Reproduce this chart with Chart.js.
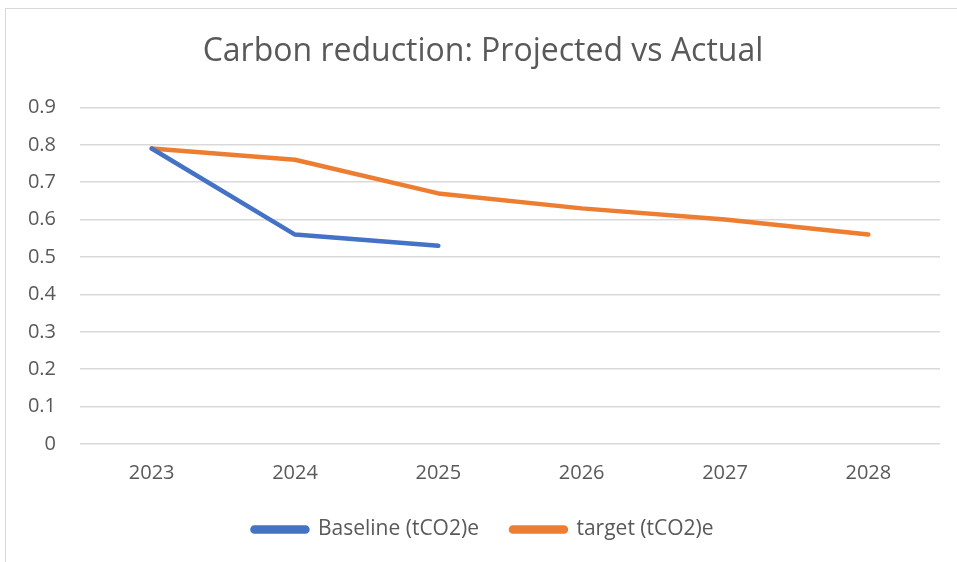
<!DOCTYPE html>
<html>
<head>
<meta charset="utf-8">
<script src="https://cdn.jsdelivr.net/npm/chart.js@4"></script>
<style>
  html, body { margin: 0; padding: 0; background: #fff; overflow: hidden; }
  #frame {
    position: absolute; left: 5px; top: 8px;
    width: 970px; height: 570px;
    border: 1px solid #d9d9d9;
  }
  #wrap { position: absolute; left: 0; top: 0; width: 951px; height: 553px; }
</style>
</head>
<body>
<div id="frame">
  <div id="wrap"><canvas id="chart"></canvas></div>
</div>
<script>
  const years = ['2023', '2024', '2025', '2026', '2027', '2028'];
  const baseline = [0.79, 0.56, 0.53, null, null, null];
  const target = [0.79, 0.76, 0.67, 0.63, 0.60, 0.56];
  const yTicks = [0, 0.1, 0.2, 0.3, 0.4, 0.5, 0.6, 0.7, 0.8, 0.9];

  const textColor = '#595959';
  const gridColor = '#d9d9d9';
  const font = "'Open Sans', 'Liberation Sans', sans-serif";

  new Chart(document.getElementById('chart'), {
    type: 'line',
    data: {
      labels: years,
      datasets: [
        {
          label: 'Baseline (tCO2)e',
          data: baseline,
          borderColor: '#4472c4',
          backgroundColor: '#4472c4',
          borderWidth: 4.5,
          borderCapStyle: 'round',
          borderJoinStyle: 'round',
          pointRadius: 0,
          tension: 0,
          spanGaps: false
        },
        {
          label: 'target (tCO2)e',
          data: target,
          borderColor: '#ed7d31',
          backgroundColor: '#ed7d31',
          borderWidth: 4.5,
          borderCapStyle: 'round',
          borderJoinStyle: 'round',
          pointRadius: 0,
          tension: 0
        }
      ]
    },
    options: {
      responsive: true,
      maintainAspectRatio: false,
      animation: false,
      layout: { padding: { top: 14, right: 17, left: 20, bottom: 12 } },
      scales: {
        x: {
          offset: true,
          grid: { display: false, drawTicks: false },
          border: { display: false },
          ticks: { color: textColor, font: { family: font, size: 20 }, padding: 17 },
          // pull the legend closer to the year labels
          afterFit: axis => { axis.height -= 15; }
        },
        y: {
          min: 0,
          max: 0.9,
          afterBuildTicks: axis => { axis.ticks = yTicks.map(v => ({ value: v })); },
          afterFit: axis => { axis.width = 54; },
          grid: { color: gridColor, lineWidth: 1.5, drawTicks: false },
          border: { display: false },
          ticks: {
            color: textColor,
            font: { family: font, size: 20 },
            padding: 24,
            callback: v => String(Math.round(v * 10) / 10)
          }
        }
      },
      plugins: {
        title: {
          display: true,
          text: 'Carbon reduction: Projected vs Actual',
          color: textColor,
          font: { family: font, size: 32, weight: 'normal' },
          padding: { top: 10, bottom: 36 }
        },
        legend: {
          position: 'bottom',
          labels: {
            color: textColor,
            font: { family: font, size: 21 },
            boxWidth: 55,
            boxHeight: 4,
            useBorderRadius: true,
            borderRadius: 2,
            padding: 32
          }
        },
        tooltip: { enabled: false }
      }
    }
  });
</script>
</body>
</html>
